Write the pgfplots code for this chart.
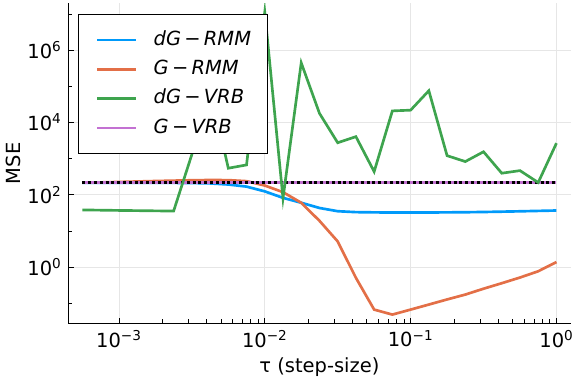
\documentclass[border=0pt]{standalone}
\usepackage{fontspec}
\setmainfont{DejaVu Sans}
\usepackage{pgfplots}
\pgfplotsset{compat=1.18}
\definecolor{c1}{HTML}{009AFA}
\definecolor{c2}{HTML}{E36F47}
\definecolor{c3}{HTML}{3EA44E}
\definecolor{c4}{HTML}{C371D2}
\definecolor{gridc}{HTML}{E6E6E6}
\newcommand{\fs}{\fontsize{14.6}{17}\selectfont}

\begin{document}
\fs
\begin{tikzpicture}
\useasboundingbox (-51.2pt,-45.5pt) rectangle (380.8pt,242.5pt);
\begin{axis}[
  scale only axis, width=376.8pt, height=240pt,
  xmode=log, ymode=log,
  xmin=4.4936e-4, xmax=1.2516, ymin=0.0275, ymax=2e7,
  axis x line*=bottom, axis y line*=left,
  axis line style={black, line width=0.75pt, -},
  xtick={1e-3,1e-2,1e-1,1},
  xticklabels={10\textsuperscript{−3},10\textsuperscript{−2},10\textsuperscript{−1},10\textsuperscript{0}},
  ytick={1,100,1e4,1e6},
  yticklabels={10\textsuperscript{0},10\textsuperscript{2},10\textsuperscript{4},10\textsuperscript{6}},
  minor xtick={},
  minor ytick={0.1,10,1000,1e5,1e7},
  tick align=inside,
  major tick length=4pt, minor tick length=3pt,
  tick style={black, line width=0.5pt},
  grid=major, major grid style={gridc, line width=0.5pt},
  tick label style={font=\fs},
  label style={font=\fs},
  xlabel={τ (step-size)}, ylabel={MSE},
  xlabel style={at={(axis description cs:0.5,-0.138)}, anchor=center},
  ylabel style={at={(axis description cs:-0.1095,0.5)}, anchor=center},
  legend cell align=left,
  legend image code/.code={\draw[#1, line width=2pt] (0pt,0pt) -- (29pt,0pt);},
  legend style={at={(axis description cs:0.0199,0.9666)}, anchor=north west,
    draw=black, line width=0.75pt, fill=white,
    inner xsep=12.7pt, inner ysep=12pt, row sep=8pt,
    nodes={inner sep=0pt, text height=11pt, text depth=3pt, font=\fs},
    /tikz/every odd column/.append style={column sep=12.5pt}},
]
% dG-RMM
\addplot[c1, line width=2pt] coordinates {
(5.6234e-4,216) (7.4989e-4,216) (1e-3,215) (1.3335e-3,215) (1.7783e-3,214)
(2.3714e-3,213) (3.1623e-3,211) (4.2170e-3,206) (5.6234e-3,192) (7.4989e-3,168)
(0.01,124) (0.013335,82) (0.017783,60) (0.023714,43) (0.031623,35)
(0.042170,33) (0.056234,32.5) (0.074989,32.2) (0.1,32.2) (0.13335,32.3)
(0.17783,32.5) (0.23714,32.8) (0.31623,33.3) (0.42170,34) (0.56234,34.8)
(0.74989,35.7) (1,36.6)};
\addlegendentry{\textit{dG\,−\,RMM}}
% G-RMM
\addplot[c2, line width=2pt] coordinates {
(5.6234e-4,216) (7.4989e-4,220) (1e-3,226) (1.3335e-3,233) (1.7783e-3,240)
(2.3714e-3,246) (3.1623e-3,252) (4.2170e-3,256) (5.6234e-3,254) (7.4989e-3,238)
(0.01,180) (0.013335,118) (0.017783,60) (0.023714,19) (0.031623,5.1)
(0.042170,0.5) (0.056234,0.066) (0.074989,0.048) (0.1,0.066) (0.13335,0.091)
(0.17783,0.126) (0.23714,0.172) (0.31623,0.25) (0.42170,0.355) (0.56234,0.51)
(0.74989,0.76) (1,1.37)};
\addlegendentry{\textit{G\,−\,RMM}}
% G-VRB and reference line
\addplot[c4, line width=2.5pt, forget plot] coordinates {(5.6234e-4,217) (1,217)};
\addplot[black, line width=2pt, line cap=butt, dash pattern=on 2.2pt off 2.15pt, forget plot]
  coordinates {(5.6234e-4,217) (1,217)};
% dG-VRB
\addplot[c3, line width=2pt] coordinates {
(5.6234e-4,38) (7.4989e-4,37.4) (1e-3,36.8) (1.3335e-3,36.3) (1.7783e-3,35.8)
(2.3714e-3,35.3) (3.1623e-3,1300) (4.2170e-3,9e4) (5.6234e-3,543) (7.4989e-3,670)
(0.01,1.15e7) (0.013335,80) (0.017783,4.5e5) (0.023714,1.8e4) (0.031623,2760)
(0.042170,4060) (0.056234,437) (0.074989,2.1e4) (0.1,2.2e4) (0.13335,7.6e4)
(0.17783,1210) (0.23714,830) (0.31623,1550) (0.42170,395) (0.56234,466)
(0.74989,218) (1,2680)};
\addlegendentry{\textit{dG\,−\,VRB}}
\addlegendimage{c4, line width=2pt}
\addlegendentry{\textit{G\,−\,VRB}}
\end{axis}
\end{tikzpicture}
\end{document}
